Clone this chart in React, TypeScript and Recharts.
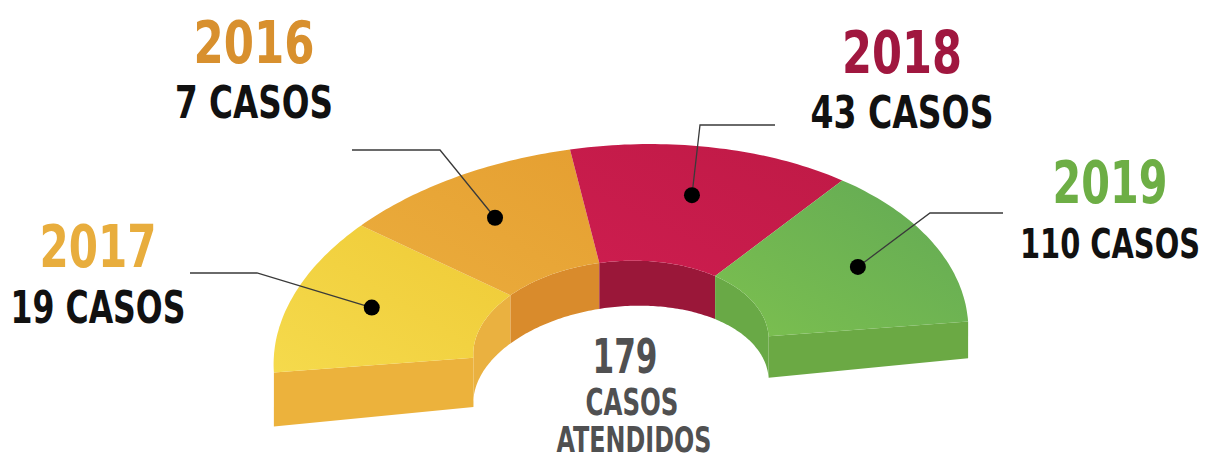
import { PieChart, Pie } from "recharts";

// segments from left to right
const years = ["2017", "2016", "2018", "2019"];
const cases = [19, 7, 43, 110];
// angular width (degrees) of each segment as drawn - the artwork does not size them by value
const arcShare = [44, 40, 48, 48];
const unitLabel = "CASOS";
const totalCaption = ["CASOS", "ATENDIDOS"];

const data = years.map((year, i) => ({ year, cases: cases[i], share: arcShare[i] }));
const total = cases.reduce((a, b) => a + b, 0);

const colors = [
  { top: ["#F5DA4C", "#EFCA36"], wall: "#EAB140", cap: "#ECB23C", text: "#E8AD3D" },
  { top: ["#EBAD3D", "#E59F31"], wall: "#D98B2C", cap: "#D98B2C", text: "#D8902E" },
  { top: ["#CD1D4F", "#BF1A46"], wall: "#9A1739", cap: "#9A1739", text: "#A0173F" },
  { top: ["#7CC04F", "#62A955"], wall: "#69A946", cap: "#6BA944", text: "#6DAE45" },
];

// where the annotations sit (text centre, baselines, leader elbow and end)
const layout = [
  { x: 98, yearY: 267, casesY: 323, yearW: 117, casesW: 175, elbow: [257, 273], end: [190, 273] },
  { x: 254, yearY: 63, casesY: 118, yearW: 121, casesW: 158, elbow: [440, 150], end: [352, 150] },
  { x: 902, yearY: 73, casesY: 128, yearW: 120, casesW: 183, elbow: [700, 125], end: [775, 125] },
  { x: 1110, yearY: 203, casesY: 258, yearW: 115, casesW: 180, elbow: [930, 213], end: [1003, 213] },
];

const FONT = "'DejaVu Sans Condensed', 'DejaVu Sans', sans-serif";
const SQUASH = 0.58;
const TILT = (4.2 * Math.PI) / 180;

const depthAt = (x: number) => 54 - (x - 275) * 0.025;

function project(cx: number, cy: number, r: number, deg: number, drop = false) {
  const a = (deg * Math.PI) / 180;
  const u = r * Math.cos(a);
  const v = r * SQUASH * Math.sin(a);
  const x = cx + u * Math.cos(TILT) - v * Math.sin(TILT);
  let y = cy - u * Math.sin(TILT) - v * Math.cos(TILT);
  if (drop) y += depthAt(x);
  return [x, y];
}

function arcPts(cx: number, cy: number, r: number, a0: number, a1: number, drop = false) {
  const n = 48;
  const pts: number[][] = [];
  for (let i = 0; i <= n; i++) pts.push(project(cx, cy, r, a0 + ((a1 - a0) * i) / n, drop));
  return pts;
}

const toPath = (pts: number[][]) =>
  "M" + pts.map((p) => `${p[0].toFixed(1)},${p[1].toFixed(1)}`).join("L") + "Z";

function FitText({ x, y, w, size, fill, children }: any) {
  // right-hand labels are anchored at their end so they never run past the page edge
  const right = x + w / 2 > 1100;
  return (
    <text
      x={right ? x + w / 2 : x}
      y={y}
      textAnchor={right ? "end" : "middle"}
      fontFamily={FONT}
      fontWeight="bold"
      fontSize={size}
      fill={fill}
      textLength={w}
      lengthAdjust="spacingAndGlyphs"
    >
      {children}
    </text>
  );
}

function Segment(props: any) {
  const { cx, cy, innerRadius, outerRadius, startAngle, endAngle, midAngle, index } = props;
  const c = colors[index];
  const l = layout[index];
  const top = toPath([
    ...arcPts(cx, cy, outerRadius, startAngle, endAngle),
    ...arcPts(cx, cy, innerRadius, endAngle, startAngle),
  ]);
  const wall = toPath([
    ...arcPts(cx, cy, innerRadius, startAngle, endAngle),
    ...arcPts(cx, cy, innerRadius, endAngle, startAngle, true),
  ]);
  const caps: number[] = [];
  if (Math.abs(startAngle - 180) < 0.01) caps.push(180);
  if (Math.abs(endAngle) < 0.01) caps.push(0);
  const dot = project(cx, cy, (innerRadius + outerRadius) / 2 + 17, midAngle);
  const gid = `seg-grad-${index}`;

  return (
    <g>
      <defs>
        <linearGradient id={gid} x1="0" y1="1" x2="1" y2="0">
          <stop offset="0%" stopColor={c.top[0]} />
          <stop offset="100%" stopColor={c.top[1]} />
        </linearGradient>
      </defs>
      <path d={wall} fill={c.wall} />
      {caps.map((a) => (
        <path
          key={a}
          d={toPath([
            project(cx, cy, outerRadius, a),
            project(cx, cy, innerRadius, a),
            project(cx, cy, innerRadius, a, true),
            project(cx, cy, outerRadius, a, true),
          ])}
          fill={c.cap}
        />
      ))}
      <path d={top} fill={`url(#${gid})`} />
      <polyline
        points={`${dot[0]},${dot[1]} ${l.elbow[0]},${l.elbow[1]} ${l.end[0]},${l.end[1]}`}
        fill="none"
        stroke="#3a3a3a"
        strokeWidth={1.3}
      />
      <circle cx={dot[0]} cy={dot[1]} r={8} fill="#000" />
      <FitText x={l.x} y={l.yearY} w={l.yearW} size={59} fill={c.text}>
        {props.payload.year}
      </FitText>
      <FitText x={l.x} y={l.casesY} w={l.casesW} size={index === 3 ? 41 : 44} fill="#111">
        {`${props.payload.cases} ${unitLabel}`}
      </FitText>
      {index === 0 && (
        <g fill="#505051" fontFamily={FONT} fontWeight="bold" textAnchor="middle">
          <text x={cx + 4} y={cy + 26} fontSize={48} textLength={65} lengthAdjust="spacingAndGlyphs">
            {total}
          </text>
          <text x={cx + 11} y={cy + 68} fontSize={37} textLength={93} lengthAdjust="spacingAndGlyphs">
            {totalCaption[0]}
          </text>
          <text x={cx + 13} y={cy + 105} fontSize={35} textLength={155} lengthAdjust="spacingAndGlyphs">
            {totalCaption[1]}
          </text>
        </g>
      )}
    </g>
  );
}

export default function App() {
  return (
    <div style={{ position: "absolute", left: 0, top: 0, width: 1214, height: 461, background: "#fff" }}>
      <PieChart width={1214} height={461} margin={{ top: 0, right: 0, bottom: 0, left: 0 }}>
        <Pie
          data={data}
          dataKey="share"
          nameKey="year"
          cx={621}
          cy={347}
          startAngle={180}
          endAngle={0}
          innerRadius={148}
          outerRadius={348}
          fill="transparent"
          stroke="none"
          label={Segment}
          labelLine={false}
          isAnimationActive={false}
        />
      </PieChart>
    </div>
  );
}
